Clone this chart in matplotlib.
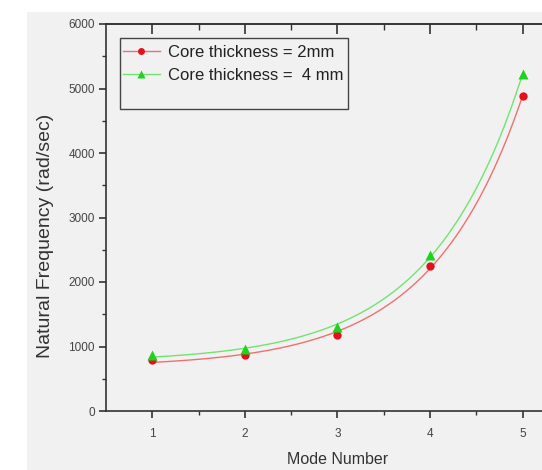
import numpy as np
import matplotlib
matplotlib.use("Agg")
import matplotlib.pyplot as plt
from matplotlib.patches import Rectangle

plt.rcParams["font.family"] = ["Liberation Sans", "DejaVu Sans"]

modes = [1, 2, 3, 4, 5]
freq_2mm = [790, 870, 1178, 2248, 4884]
freq_4mm = [868, 963, 1298, 2419, 5225]
labels = ["Core thickness = 2mm", "Core thickness =  4 mm"]


def exp_fit(x, y):
    # y = a + b*exp(c*x): scan c, linear least squares for a, b
    x = np.asarray(x, float); y = np.asarray(y, float)
    best = None
    for c in np.linspace(0.1, 3.0, 2901):
        M = np.column_stack([np.ones_like(x), np.exp(c * x)])
        coef, *_ = np.linalg.lstsq(M, y, rcond=None)
        err = np.sum((M @ coef - y) ** 2)
        if best is None or err < best[0]:
            best = (err, coef, c)
    _, (a, b), c = best
    return lambda t: a + b * np.exp(c * t)


fig = plt.figure(figsize=(5.42, 4.70), dpi=100, facecolor="white")
fig.patches.append(Rectangle((27 / 542, 0), 1, 1 - 12 / 470, transform=fig.transFigure,
                             facecolor="#f1f1f1", edgecolor="none", zorder=-10))
ax = fig.add_axes([106 / 542, 59 / 470, 463 / 542, 387 / 470])
ax.set_facecolor("#f1f1f1")

xs = np.linspace(1, 5, 200)
f2 = exp_fit(modes, freq_2mm)
f4 = exp_fit(modes, freq_4mm)
ax.plot(xs, f2(xs), color="#f07070", lw=1.0)
ax.plot(xs, f4(xs), color="#70e470", lw=1.0)
ax.plot(modes, freq_2mm, "o", color="#e4101c", ms=6, mec="none")
ax.plot(modes, freq_4mm, "^", color="#1cd41c", ms=7.5, mec="none")

# legend handles (line + marker)
h1, = ax.plot([], [], "-o", color="#f07070", mfc="#e4101c", mec="none", ms=5, lw=1.0)
h2, = ax.plot([], [], "-^", color="#70e470", mfc="#1cd41c", mec="none", ms=6, lw=1.0)
ax.legend([h1, h2], labels, loc="upper left", bbox_to_anchor=(0.036, 0.946),
          frameon=False, fontsize=12, handlelength=2.25, handletextpad=0.45,
          labelspacing=0.48, borderaxespad=0, borderpad=0, labelcolor="#222222")
ax.add_patch(Rectangle((14 / 463, 1 - 85 / 387), 228 / 463, 71 / 387, transform=ax.transAxes,
                       facecolor="none", edgecolor="#444444", lw=1.0, zorder=5))

ax.set_xlim(0.5, 5.5)
ax.set_ylim(0, 6000)
ax.set_xticks(modes)
ax.set_xticks(np.arange(1.5, 5.5, 1.0), minor=True)
ax.set_yticks(np.arange(0, 6001, 1000))
ax.set_yticks(np.arange(500, 6000, 1000), minor=True)
ax.tick_params(axis="both", which="major", labelsize=8.5, colors="#333333",
               length=5, width=1.2, labelcolor="#444444")
ax.tick_params(axis="x", which="major", pad=7)
ax.tick_params(axis="y", which="major", pad=3)
ax.tick_params(axis="both", which="minor", length=3, width=1.0, colors="#333333")

top = ax.secondary_xaxis("top")
top.set_xticks(modes)
top.set_xticks(np.arange(1.5, 5.5, 1.0), minor=True)
top.tick_params(which="major", direction="in", length=7, width=1.2, colors="#333333",
                labeltop=False)
top.tick_params(which="minor", direction="in", length=4, width=1.0, colors="#333333")
top.spines["top"].set_color("#333333")
top.spines["top"].set_linewidth(1.2)

for s in ax.spines.values():
    s.set_color("#333333")
    s.set_linewidth(1.2)

ax.set_xlabel("Mode Number", fontsize=11.5, color="#333333", labelpad=9)
ax.set_ylabel("Natural Frequency (rad/sec)", fontsize=14, color="#333333")
ax.yaxis.set_label_coords(-0.112, 0.452)

fig.savefig("out.png", dpi=100, facecolor="white")
